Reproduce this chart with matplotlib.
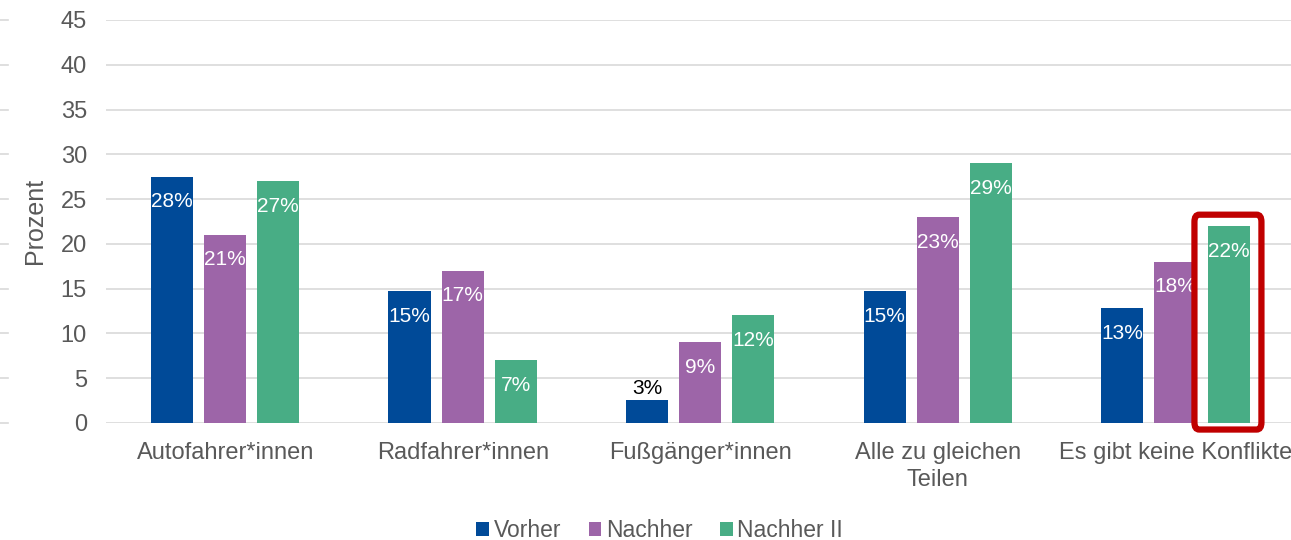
import numpy as np
import matplotlib.pyplot as plt
from matplotlib.patches import FancyBboxPatch
from matplotlib.transforms import blended_transform_factory

plt.rcParams['font.family'] = ['Liberation Sans', 'DejaVu Sans']

categories = ["Autofahrer*innen", "Radfahrer*innen", "Fußgänger*innen",
              "Alle zu gleichen\nTeilen", "Es gibt keine Konflikte"]
series = ["Vorher", "Nachher", "Nachher II"]
vorher = [27.5, 14.7, 2.6, 14.7, 12.8]
nachher = [21, 17, 9, 23, 18]
nachher2 = [27, 7, 12, 29, 22]
labels_vorher = ["28%", "15%", "3%", "15%", "13%"]
labels_nachher = ["21%", "17%", "9%", "23%", "18%"]
labels_nachher2 = ["27%", "7%", "12%", "29%", "22%"]

colors = ['#004A98', '#9D65A8', '#48AD85']
grey = '#595959'

fig = plt.figure(figsize=(12.91, 5.4), dpi=100)
ax = fig.add_axes([0.0824, 0.217, 0.92, 0.746])

x = np.arange(len(categories))
w = 0.177
step = 0.224
data = [vorher, nachher, nachher2]
labs = [labels_vorher, labels_nachher, labels_nachher2]

for i, (vals, ll) in enumerate(zip(data, labs)):
    pos = x + (i - 1) * step
    bars = ax.bar(pos, vals, width=w, color=colors[i], label=series[i], zorder=3)
    for b, v, t in zip(bars, vals, ll):
        cx = b.get_x() + b.get_width() / 2
        if v < 5:
            ax.text(cx, v + 0.2, t, ha='center', va='bottom', fontsize=15, color='black', zorder=4)
        else:
            ax.text(cx, v - 1.75, t, ha='center', va='top', fontsize=15, color='white', zorder=4)

# red highlight box around last green bar
bx = x[-1] + step
pad_l, pad_r = 0.055, 0.05
box = FancyBboxPatch((bx - w / 2 - pad_l, -0.75), w + pad_l + pad_r, nachher2[-1] + 2.0,
                     boxstyle="round,pad=0,rounding_size=0.02", fill=False,
                     edgecolor='#C00000', linewidth=4.5, zorder=5, clip_on=False,
                     mutation_aspect=40)
ax.add_patch(box)

ax.set_xlim(-0.5, 4.5)
ax.set_ylim(0, 45)
ax.set_yticks(range(0, 46, 5))
ax.set_xticks(x)
ax.set_xticklabels(categories, fontsize=17, color=grey, linespacing=1.25)
ax.tick_params(axis='y', labelsize=17, labelcolor=grey, length=0, pad=14)
ax.tick_params(axis='x', length=0, pad=14)
ax.grid(axis='y', color='#D9D9D9', linewidth=1.2, zorder=0)
for s in ax.spines.values():
    s.set_visible(False)
ax.set_ylabel("Prozent", fontsize=18, color=grey, labelpad=10)

# short tick stubs at the left edge
tr = blended_transform_factory(fig.transFigure, ax.transData)
for yv in range(0, 46, 5):
    ax.plot([0, 0.006], [yv, yv], color='#D9D9D9', linewidth=1.2, transform=tr, clip_on=False)

fig.legend(loc='center', bbox_to_anchor=(0.511, 0.017), ncol=3, frameon=False,
           fontsize=16.5, handlelength=0.55, handleheight=0.55, handletextpad=0.2,
           columnspacing=1.2, labelcolor=grey)

fig.savefig('out.png', dpi=100)
